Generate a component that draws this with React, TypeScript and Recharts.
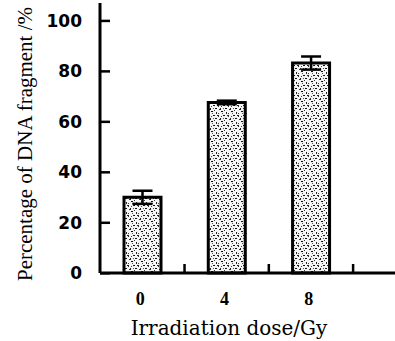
import { BarChart, Bar, XAxis, YAxis, ErrorBar } from 'recharts'

const doses = [0, 4, 8]
const fragmentPercent = [30, 67.6, 83.2]
const fragmentError = [2.6, 0.7, 2.6]
const yTicks = [0, 20, 40, 60, 80, 100]
const betweenTicks = [2, 6, 10]
const xTicks = [0, 2, 4, 6, 8, 10]

const data = doses.map((dose, i) => ({
  dose,
  value: fragmentPercent[i],
  err: fragmentError[i],
}))

const YTick = ({ x, y, payload }: any) => (
  <g>
    <rect x={x + 18} y={y - 1} width={10} height={2.5} fill="#000" />
    <text
      x={x}
      y={y}
      dy={6}
      textAnchor="end"
      fontFamily="DejaVu Sans"
      fontWeight="bold"
      fontSize={17}
      fill="#000"
    >
      {payload.value}
    </text>
  </g>
)

// labels under the bars, short inward marks between them
const XTick = ({ x, y, payload }: any) => {
  if (betweenTicks.includes(Number(payload.value))) {
    return <rect x={x - 1} y={y - 28} width={2.5} height={9} fill="#000" />
  }
  return (
    <text
      x={x - 2}
      y={y}
      dy={13}
      textAnchor="middle"
      fontFamily="Liberation Serif"
      fontWeight="bold"
      fontSize={18}
      fill="#000"
    >
      {payload.value}
    </text>
  )
}

const YTitle = () => (
  <text
    x={32}
    y={144}
    transform="rotate(-90, 32, 144)"
    textAnchor="middle"
    fontFamily="Liberation Serif"
    fontSize={21}
    fill="#000"
  >
    Percentage of DNA fragment /%
  </text>
)

const XTitle = () => (
  <text x={229} y={335} textAnchor="middle" fontFamily="DejaVu Serif" fontSize={20} fill="#000">
    Irradiation dose/Gy
  </text>
)

export default function App() {
  return (
    <div style={{ position: 'absolute', left: 0, top: 0, background: '#fff' }}>
      <BarChart
        width={395}
        height={341}
        data={data}
        margin={{ top: 3, right: 0, bottom: 0, left: 0 }}
      >
        <defs>
          <pattern id="speckle" width="10" height="10" patternUnits="userSpaceOnUse">
            <rect width="10" height="10" fill="#f4f4f4" />
            <rect x="1" y="1" width="2" height="1" fill="#111" />
            <rect x="6" y="2" width="1" height="2" fill="#222" />
            <rect x="3" y="5" width="2" height="1" fill="#111" />
            <rect x="8" y="6" width="1" height="1" fill="#333" />
            <rect x="0" y="8" width="1" height="2" fill="#222" />
            <rect x="5" y="8" width="2" height="1" fill="#111" />
            <rect x="8" y="3" width="1" height="1" fill="#444" />
            <rect x="2" y="3" width="1" height="1" fill="#555" />
            <rect x="4" y="0" width="1" height="1" fill="#333" />
            <rect x="7" y="5" width="2" height="1" fill="#222" />
            <rect x="1" y="6" width="1" height="1" fill="#444" />
            <rect x="9" y="9" width="1" height="1" fill="#333" />
            <rect x="3" y="8" width="1" height="1" fill="#555" />
          </pattern>
        </defs>
        <YAxis
          type="number"
          domain={[0, 107]}
          ticks={yTicks}
          width={100}
          tickSize={0}
          tickMargin={18}
          tickLine={false}
          axisLine={{ stroke: '#000', strokeWidth: 3 }}
          tick={<YTick />}
          interval={0}
          label={{ content: <YTitle /> }}
        />
        <XAxis
          type="number"
          dataKey="dose"
          domain={[-2, 12]}
          ticks={xTicks}
          height={68}
          tickSize={0}
          tickMargin={19}
          tickLine={false}
          axisLine={{ stroke: '#000', strokeWidth: 3 }}
          interval={0}
          tick={<XTick />}
          label={{ content: <XTitle /> }}
        />
        <Bar
          dataKey="value"
          barSize={37}
          fill="url(#speckle)"
          stroke="#000"
          strokeWidth={3}
          isAnimationActive={false}
        >
          <ErrorBar dataKey="err" width={10} stroke="#000" strokeWidth={2.5} direction="y" />
        </Bar>
      </BarChart>
    </div>
  )
}
